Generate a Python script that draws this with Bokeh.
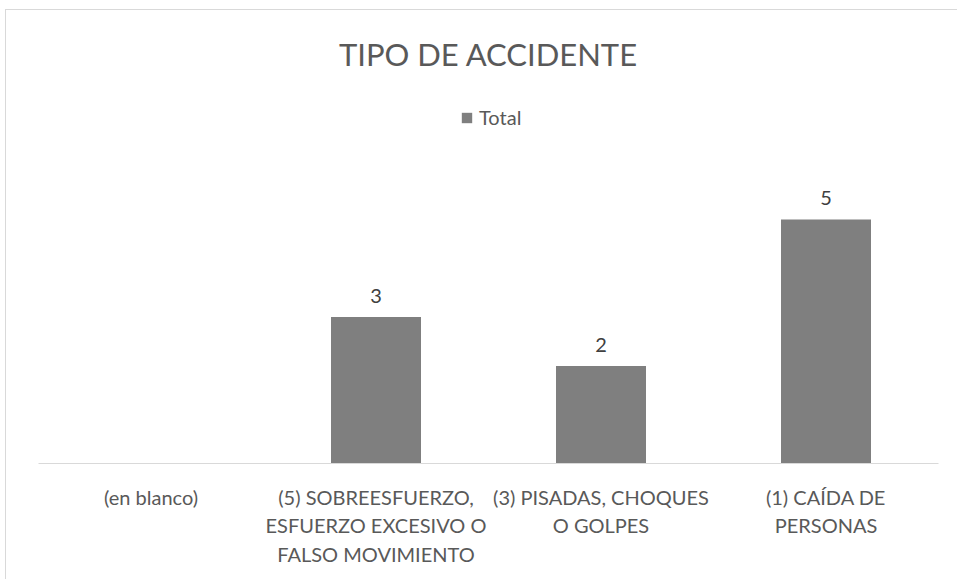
from bokeh.plotting import figure
from bokeh.models import (FactorRange, Range1d, ColumnDataSource, LabelSet, Label,
                          Legend, LegendItem)
from bokeh.core.properties import value
from bokeh.embed import file_html
from bokeh.resources import INLINE

# ---- data ----
title_text = "TIPO DE ACCIDENTE"
series_name = "Total"
categories = [
    "(en blanco)",
    "(5) SOBREESFUERZO,\nESFUERZO EXCESIVO O\nFALSO MOVIMIENTO",
    "(3) PISADAS, CHOQUES\nO GOLPES",
    "(1) CAÍDA DE\nPERSONAS",
]
values = [None, 3, 2, 5]

FONT = "Lato"
TXT = "#595959"
BAR = "#7f7f7f"

labels = ["" if v is None else str(v) for v in values]
source = ColumnDataSource(dict(
    cat=categories,
    val=[float("nan") if v is None else v for v in values],
    lab=labels,
    ly=[0 if v is None else v for v in values],
))

# the frame spans the title/legend area too (the value axis itself is hidden)
p = figure(
    width=952, height=570,
    x_range=FactorRange(*categories, range_padding=0),
    y_range=Range1d(0, 9.24),
    output_backend="svg", toolbar_location=None,
    min_border_left=32, min_border_right=20,
    min_border_top=2, min_border_bottom=117,
)
p.title.visible = False
p.styles = {"margin-left": "5px", "margin-top": "9px",
            "border-top": "1px solid #d9d9d9", "border-left": "1px solid #d9d9d9"}

r = p.vbar(x="cat", top="val", width=0.4, source=source,
           fill_color=BAR, line_color=None)

p.add_layout(LabelSet(x="cat", y="ly", text="lab", source=source,
                      text_align="center", text_baseline="alphabetic",
                      y_offset=14, text_font=value(FONT),
                      text_font_size="20px", text_color="#404040"))

p.add_layout(Label(x=2.0, y=8.40, text=title_text, text_align="center",
                   text_baseline="middle", text_font=FONT,
                   text_font_size="31px", text_color=TXT))

legend = Legend(items=[LegendItem(label=series_name, renderers=[r])],
                location=(422, 334), orientation="horizontal",
                glyph_width=13, glyph_height=13, label_standoff=6,
                padding=0, margin=0, spacing=0,
                border_line_color=None, background_fill_alpha=0,
                label_text_font=FONT, label_text_font_size="20px",
                label_text_color=TXT)
p.add_layout(legend, "center")

p.yaxis.visible = False
p.xaxis.axis_line_color = "#d9d9d9"
p.xaxis.major_tick_line_color = None
p.xaxis.minor_tick_line_color = None
p.xaxis.major_label_standoff = 15
p.xaxis.major_label_text_font = FONT
p.xaxis.major_label_text_font_size = "20px"
p.xaxis.major_label_text_color = TXT
p.xgrid.grid_line_color = None
p.ygrid.grid_line_color = None
p.outline_line_color = None

open("out.html", "w").write(file_html(p, INLINE))
